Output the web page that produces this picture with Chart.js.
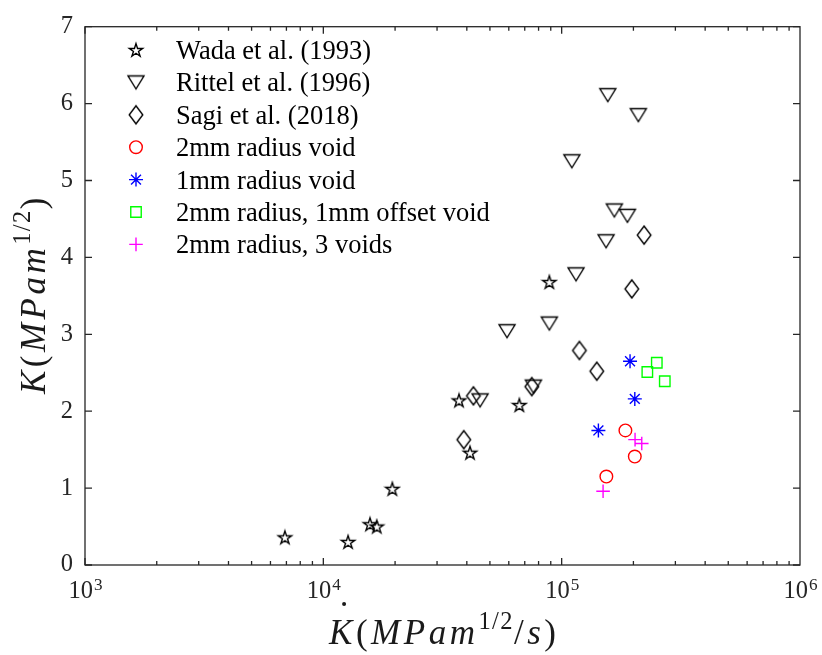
<!DOCTYPE html>
<html>
<head>
<meta charset="utf-8">
<script src="https://cdn.jsdelivr.net/npm/chart.js@4.4.0/dist/chart.umd.min.js"></script>
<style>
  body { margin: 0; background: #fff; }
  canvas { display: block; }
</style>
</head>
<body>
<canvas id="kChart" width="822" height="655"></canvas>
<script>
// fracture toughness K against loading rate Kdot, one pair of arrays per source
const wadaX = [6900, 12700, 15700, 16760, 19480, 37100, 41270, 66450, 88800];
const wadaY = [0.36, 0.30, 0.53, 0.50, 0.99, 2.14, 1.46, 2.08, 3.68];
const rittelX = [156100, 209800, 110300, 166400, 188700, 153600, 114900, 88800, 59000, 45470, 76090];
const rittelY = [6.11, 5.85, 5.25, 4.61, 4.54, 4.21, 3.78, 3.14, 3.04, 2.14, 2.32];
const sagiX = [42620, 38830, 74900, 221700, 196900, 118700, 140400];
const sagiY = [2.20, 1.63, 2.32, 4.29, 3.59, 2.79, 2.52];
const void2mmX = [185100, 202700, 154000];
const void2mmY = [1.75, 1.41, 1.15];
const void1mmX = [193600, 202700, 142600];
const void1mmY = [2.65, 2.16, 1.75];
const offsetVoidX = [250700, 228800, 270800];
const offsetVoidY = [2.63, 2.51, 2.39];
const threeVoidsX = [203200, 216800, 149200];
const threeVoidsY = [1.63, 1.58, 0.96];

const seriesLabels = [
  'Wada et al. (1993)',
  'Rittel et al. (1996)',
  'Sagi et al. (2018)',
  '2mm radius void',
  '1mm radius void',
  '2mm radius, 1mm offset void',
  '2mm radius, 3 voids'
];
const xMajorTicks = [1e3, 1e4, 1e5, 1e6];
const yTicks = [0, 1, 2, 3, 4, 5, 6, 7];

const FONT = '"Liberation Serif", "Times New Roman", serif';
const AXIS_COLOR = '#262626';
const TICK_SIZE = 24.5;

function pairs(xs, ys) {
  return xs.map((x, i) => ({ x: x, y: ys[i] }));
}

// small canvases for the marker shapes Chart.js does not have
function markerCanvas(w, h, path) {
  const c = document.createElement('canvas');
  c.width = w; c.height = h;
  const g = c.getContext('2d');
  g.strokeStyle = '#000';
  g.lineWidth = 1.4;
  g.lineJoin = 'miter';
  g.beginPath();
  path(g, w / 2, h / 2);
  g.closePath();
  g.stroke();
  return c;
}

const pentagram = markerCanvas(18, 18, (g, cx, cy) => {
  const R = 7, r = 7 * 0.382;
  for (let i = 0; i < 10; i++) {
    const a = -Math.PI / 2 + i * Math.PI / 5;
    const rad = i % 2 ? r : R;
    const px = cx + Math.cos(a) * rad, py = cy + 0.6 + Math.sin(a) * rad;
    if (i === 0) g.moveTo(px, py); else g.lineTo(px, py);
  }
});
const triangleDown = markerCanvas(20, 18, (g, cx, cy) => {
  g.moveTo(cx - 8, cy - 6.5);
  g.lineTo(cx + 8, cy - 6.5);
  g.lineTo(cx, cy + 6.5);
});
const diamond = markerCanvas(18, 22, (g, cx, cy) => {
  g.moveTo(cx, cy - 9);
  g.lineTo(cx + 6.8, cy);
  g.lineTo(cx, cy + 9);
  g.lineTo(cx - 6.8, cy);
});

const datasets = [
  { label: seriesLabels[0], data: pairs(wadaX, wadaY), pointStyle: pentagram, pointRadius: 7, borderColor: '#000' },
  { label: seriesLabels[1], data: pairs(rittelX, rittelY), pointStyle: triangleDown, pointRadius: 8, borderColor: '#000' },
  { label: seriesLabels[2], data: pairs(sagiX, sagiY), pointStyle: diamond, pointRadius: 8, borderColor: '#000' },
  { label: seriesLabels[3], data: pairs(void2mmX, void2mmY), pointStyle: 'circle', pointRadius: 6.3, borderColor: '#ff0000' },
  { label: seriesLabels[4], data: pairs(void1mmX, void1mmY), pointStyle: 'star', pointRadius: 7, borderColor: '#0000ff' },
  { label: seriesLabels[5], data: pairs(offsetVoidX, offsetVoidY), pointStyle: 'rect', pointRadius: 7.4, borderColor: '#00ff00' },
  { label: seriesLabels[6], data: pairs(threeVoidsX, threeVoidsY), pointStyle: 'cross', pointRadius: 6.8, borderColor: '#ff00ff' }
].map(d => Object.assign(d, {
  backgroundColor: 'rgba(0,0,0,0)',
  borderWidth: 1.4,
  pointHoverRadius: d.pointRadius,
  showLine: false
}));

// text with italic letters and raised exponents, centred on cx
function drawMath(ctx, parts, cx, baseY, size, gap) {
  const glyphs = [];
  let w = 0;
  parts.forEach(p => {
    const fs = p.sup ? size * 0.7 : size;
    const font = (p.it ? 'italic ' : '') + fs + 'px ' + FONT;
    ctx.font = font;
    for (const ch of p.t) {
      glyphs.push({ ch: ch, font: font, x: w, dy: p.sup ? -size * 0.42 : 0 });
      w += ctx.measureText(ch).width + (p.sup ? gap * 0.4 : gap);
    }
  });
  w -= gap;
  const x0 = cx - w / 2;
  glyphs.forEach(g => {
    ctx.font = g.font;
    ctx.fillText(g.ch, x0 + g.x, baseY + g.dy);
  });
  return x0;
}

const axesPlugin = {
  id: 'matlabAxes',
  afterDraw(chart) {
    const ctx = chart.ctx;
    const a = chart.chartArea;
    const xs = chart.scales.x, ys = chart.scales.y;
    ctx.save();

    // box and inward ticks
    ctx.strokeStyle = AXIS_COLOR;
    ctx.lineWidth = 1.3;
    ctx.strokeRect(a.left, a.top, a.right - a.left, a.bottom - a.top);
    ctx.beginPath();
    for (let e = 3; e <= 5; e++) {
      for (let m = 1; m <= 9; m++) {
        const px = xs.getPixelForValue(m * Math.pow(10, e));
        const len = m === 1 ? 7 : 4;
        ctx.moveTo(px, a.bottom); ctx.lineTo(px, a.bottom - len);
        ctx.moveTo(px, a.top); ctx.lineTo(px, a.top + len);
      }
    }
    yTicks.forEach(v => {
      const py = ys.getPixelForValue(v);
      ctx.moveTo(a.left, py); ctx.lineTo(a.left + 7, py);
      ctx.moveTo(a.right, py); ctx.lineTo(a.right - 7, py);
    });
    ctx.stroke();

    // x tick labels as 10^n
    ctx.fillStyle = AXIS_COLOR;
    ctx.textBaseline = 'alphabetic';
    ctx.textAlign = 'left';
    const expSize = TICK_SIZE * 0.7;
    xMajorTicks.forEach(v => {
      const px = xs.getPixelForValue(v);
      const exp = String(Math.round(Math.log10(v)));
      ctx.font = TICK_SIZE + 'px ' + FONT;
      const wb = ctx.measureText('10').width;
      ctx.font = expSize + 'px ' + FONT;
      const we = ctx.measureText(exp).width;
      const x0 = px - (wb + we) / 2;
      ctx.font = TICK_SIZE + 'px ' + FONT;
      ctx.fillText('10', x0, a.bottom + 33);
      ctx.font = expSize + 'px ' + FONT;
      ctx.fillText(exp, x0 + wb + 1, a.bottom + 25);
    });

    // axis titles
    ctx.fillStyle = '#1a1a1a';
    const kx = drawMath(ctx, [
      { t: 'K', it: true }, { t: '(' }, { t: 'MPam', it: true },
      { t: '1/2', sup: true }, { t: '/' }, { t: 's', it: true }, { t: ')' }
    ], (a.left + a.right) / 2, 644, 35, 3.5);
    ctx.beginPath();
    ctx.arc(kx + 15, 604, 2, 0, Math.PI * 2);
    ctx.fill();

    ctx.translate(45, (a.top + a.bottom) / 2);
    ctx.rotate(-Math.PI / 2);
    drawMath(ctx, [
      { t: 'K', it: true }, { t: '(' }, { t: 'MPam', it: true },
      { t: '1/2', sup: true }, { t: ')' }
    ], 0, 0, 35, 3.5);
    ctx.restore();

    // legend inside the axes, no frame
    ctx.save();
    chart.data.datasets.forEach((ds, i) => {
      const rowY = 50 + i * 32.4;
      ctx.strokeStyle = ds.borderColor;
      ctx.fillStyle = 'rgba(0,0,0,0)';
      ctx.lineWidth = ds.borderWidth;
      Chart.helpers.drawPoint(ctx, {
        pointStyle: ds.pointStyle,
        radius: ds.pointRadius,
        rotation: 0,
        borderWidth: ds.borderWidth
      }, 136, rowY);
      ctx.fillStyle = '#000';
      ctx.font = '26.5px ' + FONT;
      ctx.textAlign = 'left';
      ctx.textBaseline = 'alphabetic';
      ctx.fillText(ds.label, 176, rowY + 9);
    });
    ctx.restore();
  }
};

new Chart(document.getElementById('kChart'), {
  type: 'scatter',
  data: { datasets: datasets },
  options: {
    responsive: false,
    animation: false,
    events: [],
    layout: { padding: { left: 0, right: 22, top: 23, bottom: 0 } },
    plugins: {
      legend: { display: false },
      tooltip: { enabled: false }
    },
    scales: {
      x: {
        type: 'logarithmic',
        min: xMajorTicks[0],
        max: xMajorTicks[xMajorTicks.length - 1],
        grid: { display: false, drawTicks: false },
        border: { display: false },
        ticks: { display: false },
        afterFit: s => { s.height = 90; }
      },
      y: {
        min: yTicks[0],
        max: yTicks[yTicks.length - 1],
        grid: { display: false, drawTicks: false },
        border: { display: false },
        ticks: {
          stepSize: 1,
          padding: 12,
          color: AXIS_COLOR,
          font: { family: FONT, size: TICK_SIZE }
        },
        afterFit: s => { s.width = 85; }
      }
    }
  },
  plugins: [axesPlugin]
});
</script>
</body>
</html>
